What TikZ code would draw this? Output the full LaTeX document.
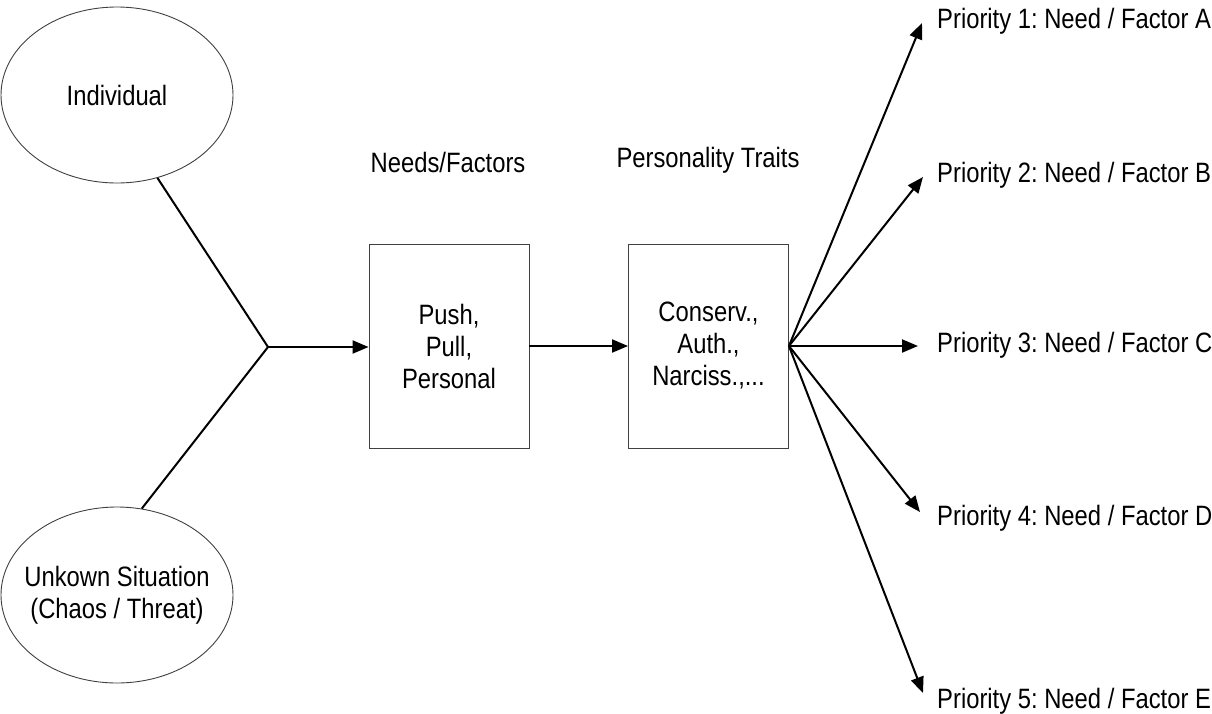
\documentclass[tikz,border=0pt]{standalone}
\usepackage{fontspec}
\setmainfont{Liberation Sans}[FakeStretch=0.85]
\usetikzlibrary{shapes.geometric,arrows.meta}
\tikzset{
  oval/.style={ellipse,draw=black!75,line width=0.9pt,minimum width=232pt,minimum height=176pt,inner sep=0pt},
  box/.style={rectangle,draw=black!75,line width=0.9pt,minimum width=160pt,minimum height=204pt,inner sep=0pt,align=center},
  lbl/.style={inner sep=0pt,align=center},
  conn/.style={line width=2pt},
  arr/.style={conn,-{Triangle[length=16pt,width=13pt]}},
}
\begin{document}
\frenchspacing
\begin{tikzpicture}[x=1pt,y=-1pt,font=\fontsize{28}{32}\selectfont]
\useasboundingbox (0,0) rectangle (1212,713);
\node[oval,label={[lbl]center:Individual}] (ind) at (117,95) {};
\node[oval,label={[lbl]center:Unkown Situation\\(Chaos / Threat)}] (unk) at (117,595) {};
\node[box] (b1) at (449,346) {Push,\\Pull,\\Personal};
\node[box] (b2) at (708.5,346) {Conserv.,\\Auth.,\\Narciss.,...};
\node[lbl] (h1) at (448,162) {Needs/Factors};
\node[lbl] (h2) at (708,160) {Personality Traits};
\coordinate (j) at (268,347);
\draw[conn] (ind.-64) -- (j);
\draw[conn] (unk.74) -- (j);
\draw[arr] (j) -- (j -| b1.west);
\draw[arr] (b1.east) -- (b2.west);
\node[lbl,anchor=base west] (p1) at (937,28) {Priority 1: Need / Factor A};
\node[lbl,anchor=base west] (p2) at (937,182) {Priority 2: Need / Factor B};
\node[lbl,anchor=base west] (p3) at (937,352) {Priority 3: Need / Factor C};
\node[lbl,anchor=base west] (p4) at (937,525) {Priority 4: Need / Factor D};
\node[lbl,anchor=base west] (p5) at (937,708) {Priority 5: Need / Factor E};
\coordinate (t1) at (922,23);
\coordinate (t2) at (923,177);
\coordinate (t3) at (918,346);
\coordinate (t4) at (920,512);
\coordinate (t5) at (923,693);
\foreach \t in {t1,t2,t3,t4,t5} \draw[arr] (b2.east) -- (\t);
\end{tikzpicture}
\end{document}
